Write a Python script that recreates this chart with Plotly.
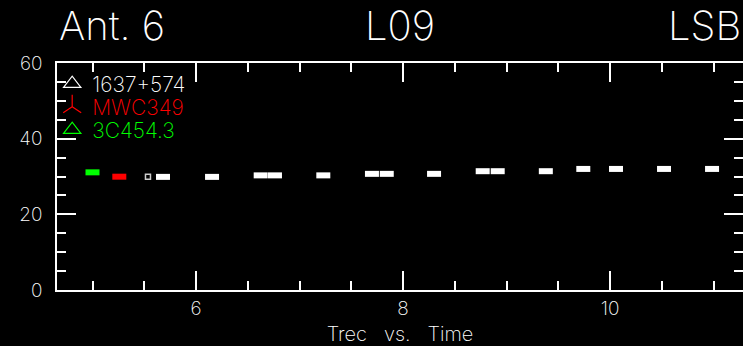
import plotly.graph_objects as go

# Trec vs. Time, Ant. 6, L09, LSB
t_1637 = [5.681, 6.155, 6.625, 6.763, 7.23, 7.70, 7.843, 8.30, 8.77, 8.915,
          9.38, 9.742, 10.058, 10.522, 10.986]
trec_1637 = [29.9, 29.9, 30.3, 30.3, 30.3, 30.7, 30.7, 30.7, 31.4, 31.4,
             31.4, 32.0, 32.0, 32.0, 32.0]
t_1637_open = [5.536]
trec_1637_open = [29.95]
t_mwc = [5.259]
trec_mwc = [29.95]
t_3c = [5.0]
trec_3c = [31.1]

names = ["1637+574", "MWC349", "3C454.3"]
colors = ["#ffffff", "#ff0000", "#00ff00"]
legend_symbols = ["triangle-up-open", "y-up", "triangle-up-open"]

FONT = "Inter"
W = 200

fig = go.Figure()

# data marks: small wide rectangles (thick horizontal strokes)
for xs, ys, c in [(t_3c, trec_3c, colors[2]), (t_mwc, trec_mwc, colors[1]),
                  (t_1637, trec_1637, colors[0])]:
    fig.add_trace(go.Scatter(
        x=xs, y=ys, mode="markers", showlegend=False,
        marker=dict(symbol="line-ew", size=10, color=c,
                    line=dict(color=c, width=6)),
    ))
fig.add_trace(go.Scatter(
    x=t_1637_open, y=trec_1637_open, mode="markers", showlegend=False,
    marker=dict(symbol="square-open", size=5, color="#cccccc",
                line=dict(color="#cccccc", width=1.5)),
))

# legend entries, one legend each so they can be spaced like the original
legend_ids = ["legend", "legend2", "legend3"]
for name, c, sym, lid in zip(names, colors, legend_symbols, legend_ids):
    fig.add_trace(go.Scatter(
        x=[None], y=[None], mode="markers", name=name, legend=lid,
        marker=dict(symbol=sym, size=15, color=c, line=dict(color=c, width=1.2)),
    ))

for lid, ypos, c in zip(legend_ids, [0.9075, 0.806, 0.705], colors):
    fig.update_layout({lid: dict(
        x=-0.007, xanchor="left", y=ypos, yanchor="middle",
        bgcolor="rgba(0,0,0,0)", itemwidth=30,
        font=dict(family=FONT, size=21, color=c, weight=W),
    )})

axis_common = dict(
    showgrid=False, zeroline=False, showline=True, linecolor="white",
    linewidth=1.5, mirror="allticks", ticks="inside", ticklen=19,
    tickwidth=1.5, tickcolor="white",
    tickfont=dict(family=FONT, size=19, color="white", weight=W),
)

fig.update_xaxes(
    range=[4.657, 11.285], dtick=2, tick0=0,
    minor=dict(ticks="inside", ticklen=9, dtick=0.5, tick0=0,
               tickcolor="white", tickwidth=1.5, showgrid=False),
    title=dict(text="Trec\u00a0\u00a0\u00a0vs.\u00a0\u00a0\u00a0Time", standoff=11,
               font=dict(family=FONT, size=20, color="white", weight=W)),
    **axis_common,
)
fig.update_yaxes(
    range=[0, 60], dtick=20, tick0=0,
    minor=dict(ticks="inside", ticklen=9, dtick=5, tick0=0,
               tickcolor="white", tickwidth=1.5, showgrid=False),
    ticklabelstandoff=9,
    **axis_common,
)

title_font = dict(family=FONT, size=40, color="white", weight=W)
for text, xp, anchor in [("Ant. 6", 0, "left"), ("L09", 0.5, "center"),
                         ("LSB", 1, "right")]:
    fig.add_annotation(text=text, x=xp, xref="paper", xanchor=anchor,
                       y=1, yref="paper", yanchor="bottom", yshift=11,
                       showarrow=False, font=title_font)

fig.update_layout(
    template="none",
    width=743, height=346,
    margin=dict(l=57, r=0, t=63, b=56),
    paper_bgcolor="black", plot_bgcolor="black",
)

fig.write_html(
    "out.html",
    config={"displayModeBar": False},
    post_script="document.body.style.margin='0';document.body.style.overflow='hidden';",
)
